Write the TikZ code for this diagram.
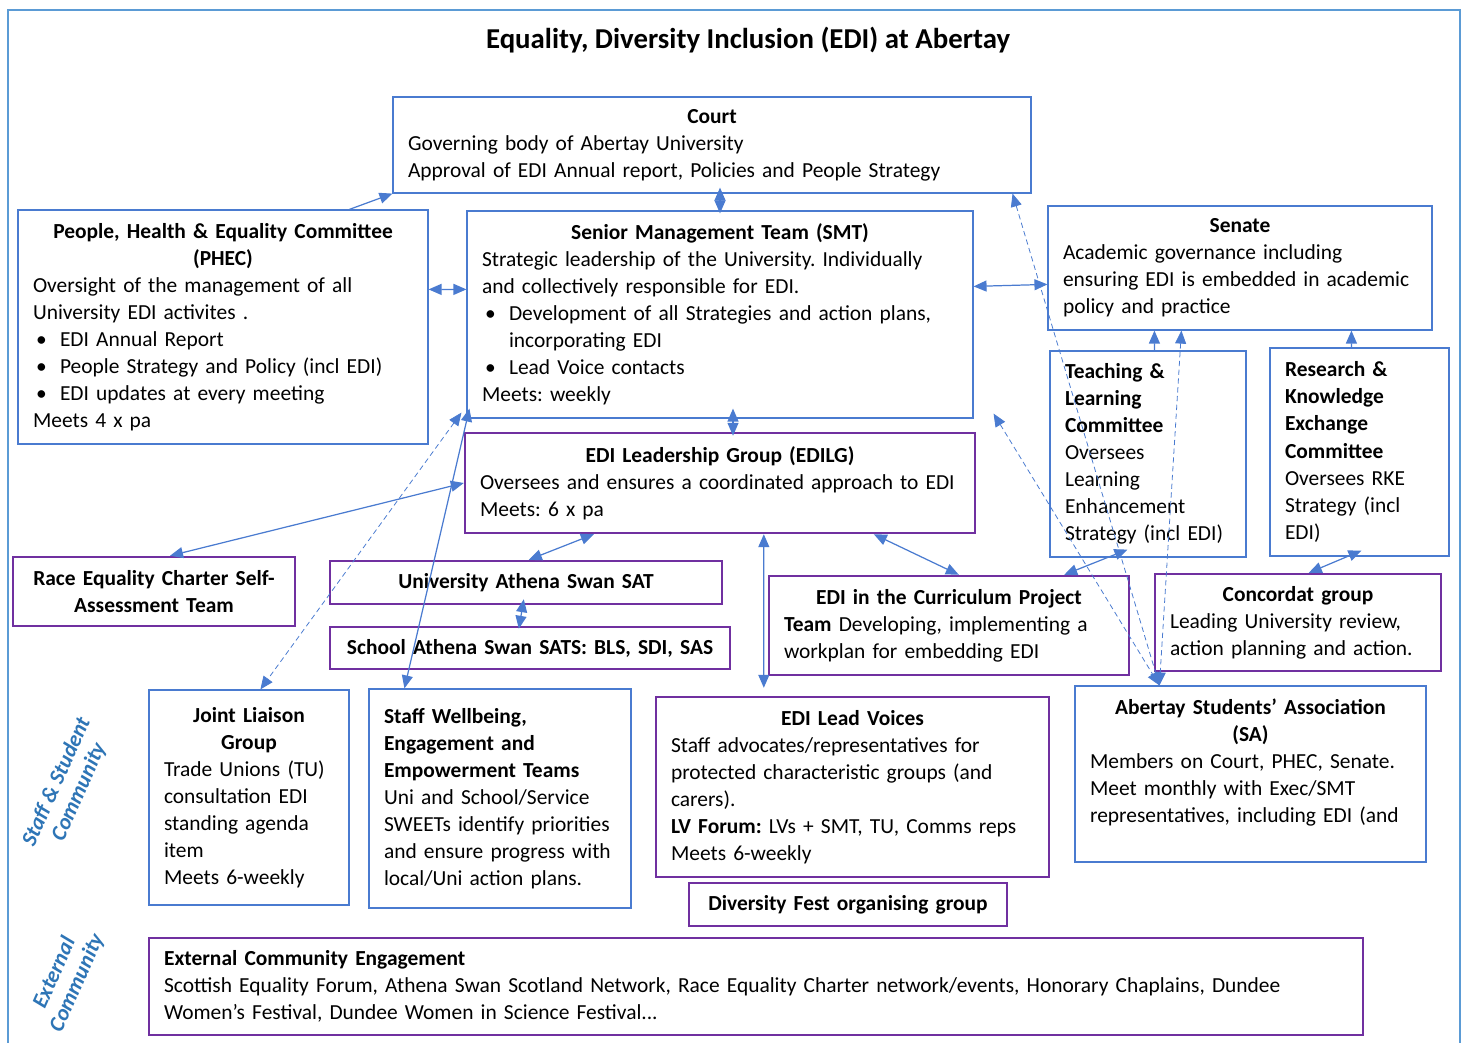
\documentclass[tikz,border=0pt]{standalone}
\usepackage{fontspec}
\setmainfont{Carlito}
\usepackage{tikz}
\usetikzlibrary{arrows.meta,calc}
\definecolor{edgeblue}{HTML}{4A7BD0}
\definecolor{edipurple}{HTML}{7030A0}
\definecolor{frameblue}{HTML}{5B9BD5}
\definecolor{sideblue}{HTML}{2E75B6}
\newcommand{\hd}[1]{\mbox{}\hfill\textbf{#1}\hfill\mbox{}}
\newcommand{\bul}{\makebox[0.54cm][l]{\hspace{0.06cm}\textbullet}}
\frenchspacing

\begin{document}
\begin{tikzpicture}[x=0.02cm,y=-0.02cm,every node/.style={font=\fontsize{12.2}{15.4}\selectfont,align=left,inner xsep=0.3cm,inner ysep=0pt},bluebox/.style={draw=edgeblue,line width=0.7pt},purplebox/.style={draw=edipurple,line width=1.4pt},link/.style={edgeblue,line width=0.7pt,{Triangle[length=2.6mm,width=2.2mm]}-{Triangle[length=2.6mm,width=2.2mm]}},oneway/.style={edgeblue,line width=0.7pt,-{Triangle[length=2.6mm,width=2.2mm]}},dlink/.style={link,line width=0.45pt,densely dashed},sidetext/.style={text=sideblue,font=\fontsize{12.5}{14}\selectfont\bfseries\itshape,align=center,rotate=66,inner sep=0pt}]
\useasboundingbox (0,0) rectangle (1466,1043);
\draw[frameblue,line width=1.2pt] (8,1043) -- (8,10) -- (1460,10) -- (1460,1043);
\node[font=\fontsize{16.4}{19}\selectfont\bfseries] (title) at (748,40) {Equality, Diversity Inclusion (EDI) at Abertay};
\node[bluebox,text width=12.16cm,minimum height=1.92cm] (court) at (712,145) {\hd{Court}\\Governing body of Abertay University\\Approval of EDI Annual report, Policies and People Strategy};
\node[bluebox,text width=7.6cm,minimum height=4.68cm] (phec) at (223,327) {\hd{People, Health \& Equality Committee}\\\hd{(PHEC)}\\Oversight of the management of all\\University EDI activites .\\\bul EDI Annual Report\\\bul People Strategy and Policy (incl EDI)\\\bul EDI updates at every meeting\\Meets 4 x pa};
\node[bluebox,text width=9.52cm,minimum height=4.14cm] (smt) at (720,314.5) {\hd{Senior Management Team (SMT)}\\Strategic leadership of the University. Individually\\and collectively responsible for EDI.\\\bul Development of all Strategies and action plans,\\\hspace*{0.54cm}incorporating EDI\\\bul Lead Voice contacts\\Meets: weekly};
\node[bluebox,text width=7.08cm,minimum height=2.48cm] (senate) at (1240,268) {\hd{Senate}\\Academic governance including\\ensuring EDI is embedded in academic\\policy and practice};
\node[bluebox,text width=3.32cm,minimum height=4.12cm] (tl) at (1148,454) {\textbf{Teaching \&}\\\textbf{Learning}\\\textbf{Committee}\\Oversees\\Learning\\Enhancement\\Strategy (incl EDI)};
\node[bluebox,text width=2.98cm,minimum height=4.16cm] (rke) at (1359.5,452) {\textbf{Research \&}\\\textbf{Knowledge}\\\textbf{Exchange}\\\textbf{Committee}\\Oversees RKE\\Strategy (incl\\EDI)};
\node[purplebox,text width=9.6cm,minimum height=2cm] (edilg) at (720,483) {\hd{EDI Leadership Group (EDILG)}\\Oversees and ensures a coordinated approach to EDI\\Meets: 6 x pa};
\node[purplebox,text width=5.04cm,minimum height=1.38cm] (race) at (154,591.5) {\hd{Race Equality Charter Self-}\\\hd{Assessment Team}};
\node[purplebox,text width=7.24cm,minimum height=0.86cm] (uniathena) at (526,582.5) {\hd{University Athena Swan SAT}};
\node[purplebox,text width=7.4cm,minimum height=0.84cm] (school) at (530,648) {\hd{School Athena Swan SATS: BLS, SDI, SAS}};
\node[purplebox,text width=6.6cm,minimum height=1.98cm] (curric) at (949,625.5) {\hd{EDI in the Curriculum Project}\\\textbf{Team} Developing, implementing a\\workplan for embedding EDI};
\node[purplebox,text width=5.12cm,minimum height=1.94cm] (concordat) at (1298,622.5) {\hd{Concordat group}\\Leading University review,\\action planning and action.};
\node[bluebox,text width=3.4cm,minimum height=4.3cm] (jlg) at (249,797.5) {\hd{Joint Liaison}\\\hd{Group}\\Trade Unions (TU)\\consultation EDI\\standing agenda\\item\\Meets 6-weekly};
\node[bluebox,text width=4.64cm,minimum height=4.38cm] (staff) at (500,798.5) {\textbf{Staff Wellbeing,}\\\textbf{Engagement and}\\\textbf{Empowerment Teams}\\Uni and School/Service\\SWEETs identify priorities\\and ensure progress with\\local/Uni action plans.};
\node[purplebox,text width=7.26cm,minimum height=3.6cm] (leadvoices) at (852.5,787) {\hd{EDI Lead Voices}\\Staff advocates/representatives for\\protected characteristic groups (and\\carers).\\\textbf{LV Forum:} LVs + SMT, TU, Comms reps\\Meets 6-weekly};
\node[bluebox,text width=6.42cm,minimum height=3.52cm] (sa) at (1250.5,774) {\hd{Abertay Students' Association}\\\hd{(SA)}\\Members on Court, PHEC, Senate.\\Meet monthly with Exec/SMT\\representatives, including EDI (and\\\mbox{}};
\node[purplebox,text width=5.76cm,minimum height=0.86cm] (divfest) at (848,904.5) {\hd{Diversity Fest organising group}};
\node[purplebox,text width=23.68cm,minimum height=1.94cm] (external) at (756,986.5) {\textbf{External Community Engagement}\\Scottish Equality Forum, Athena Swan Scotland Network, Race Equality Charter network/events, Honorary Chaplains, Dundee\\Women's Festival, Dundee Women in Science Festival...};
\node[sidetext] (sidestaff) at (68,787) {Staff \& Student\\Community};
\node[sidetext] (sideext) at (66,978) {External\\Community};
\draw[oneway] ($(phec.north west)+(332,0)$) -- (court.south west);
\draw[link] ($(smt.north |- court.south)+(0,-6)$) -- ($(smt.north)+(0,3)$);
\draw[link] ($(phec.north east)+(0,80)$) -- ($(smt.north west)+(0,79)$);
\draw[link] ($(smt.north east)+(0,76)$) -- ($(senate.north west)+(0,79)$);
\draw[link] ($(smt.south)+(13,-10)$) -- ($(edilg.north)+(13,4)$);
\draw[link] (edilg.west) -- ($(race.north)+(16,0)$);
\draw[link] ($(edilg.south west)+(130,0)$) -- ($(uniathena.north west)+(200,0)$);
\draw[link] ($(uniathena.south west)+(195,-6)$) -- ($(school.north west)+(190,3)$);
\draw[link] ($(edilg.south west)+(300,0)$) -- ($(leadvoices.north west)+(109,-8)$);
\draw[link] ($(edilg.south west)+(410,0)$) -- ($(curric.north west)+(191,0)$);
\draw[link] ($(curric.north east)+(-66,0)$) -- ($(tl.south west)+(78,-8)$);
\draw[link] ($(concordat.north west)+(155,0)$) -- ($(rke.south west)+(92,-6)$);
\draw[oneway] ($(tl.north west)+(105,0)$) -- ($(senate.south west)+(107,0)$);
\draw[oneway] ($(rke.north west)+(82,0)$) -- ($(senate.south west)+(304,0)$);
\draw[link] ($(smt.south west)+(3,-10)$) -- ($(staff.north west)+(36,0)$);
\draw[dlink] ($(smt.south west)+(-5,-6)$) -- ($(jlg.north west)+(112,0)$);
\draw[dlink] ($(court.south east)+(-19,0)$) -- ($(sa.north west)+(85,0)$);
\draw[dlink] ($(smt.south east)+(20,-5)$) -- ($(sa.north west)+(85,0)$);
\draw[dlink] ($(senate.south west)+(134,0)$) -- ($(sa.north west)+(85,0)$);
\end{tikzpicture}
\end{document}
